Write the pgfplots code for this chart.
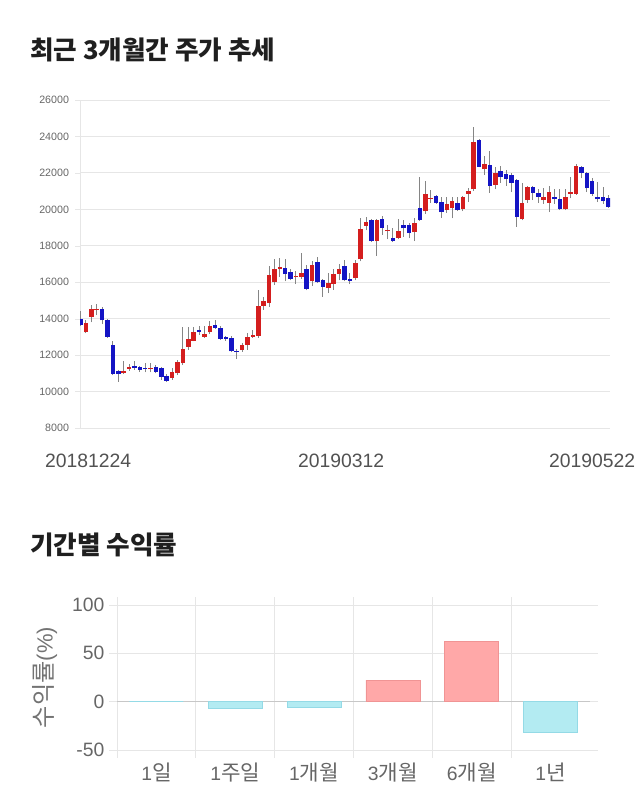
\documentclass[border=0pt]{standalone}
\usepackage{fontspec}
\setmainfont{Liberation Sans}
\newfontfamily\kr{Noto Sans CJK KR}
\newfontfamily\krl{Noto Sans CJK KR}[Scale=1.1]
\usepackage{pgfplots}
\usepackage{pgfplotstable}
\pgfplotsset{compat=1.18}
\definecolor{upred}{HTML}{D41E1E}
\definecolor{dnblue}{HTML}{1414C4}
\definecolor{wick}{HTML}{858585}
\definecolor{gridc}{HTML}{E6E6E6}
\definecolor{txt}{HTML}{666666}
\definecolor{posf}{HTML}{FFA8A8}
\definecolor{posd}{HTML}{F09494}
\definecolor{negf}{HTML}{B3EBF2}
\definecolor{negd}{HTML}{94DAE6}

% rising candles (close >= open): index open high low close
\pgfplotstableread{
i o h l c
1 13250 13950 13200 13750
2 14100 14750 13800 14550
3 14450 14800 14200 14530
8 11000 11700 10950 11150
9 11250 11500 11150 11350
13 11230 11550 11050 11280
17 10750 11300 10650 11100
18 11000 11750 10900 11600
19 11550 13550 11450 12350
20 12450 13550 12300 12900
21 12800 13550 12750 13250
23 13000 13600 12950 13150
24 13250 13850 13150 13600
30 12280 12650 12180 12550
31 12550 13200 12300 13000
32 13020 13400 12950 13080
33 13050 15550 12950 14700
34 14700 15200 14500 14950
35 14850 16900 14650 16400
36 16000 17300 15850 16700
37 16700 17350 16300 16850
40 16280 16600 15900 16340
41 16300 17600 16200 16480
43 16050 17150 15800 16950
46 15700 16500 15400 15950
47 15900 16700 15600 16450
48 16450 17000 16100 16700
51 16250 17200 16100 17050
52 17250 19550 17150 18900
53 19100 19560 18850 19330
55 18250 19450 17450 19400
57 18800 19150 18350 18870
59 18450 19450 18350 18830
62 18750 19500 18250 19250
64 19900 21550 19750 20850
65 20580 21050 20350 20640
68 19950 20650 19800 20300
69 20050 20700 19500 20450
71 20000 20750 19900 20700
72 20850 21150 20400 21030
73 21100 24500 21000 23700
75 22200 22900 21900 22470
77 21350 22300 21100 22000
82 19450 21450 19400 20350
83 20500 21300 20350 21200
86 20500 21150 20300 20700
87 20350 21300 19850 20950
90 20000 21100 19950 20700
91 20850 21800 20600 20950
92 20850 22500 20800 22400
}\up

% falling candles (close < open)
\pgfplotstableread{
i o h l c
0 14000 14400 13600 13650
4 14550 14650 13700 13900
5 13900 14000 12950 13000
6 12550 12800 10900 10950
7 11150 11200 10550 10950
10 11400 11650 11200 11300
11 11350 11400 11100 11200
12 11280 11550 11050 11230
14 11350 11450 11000 11100
15 11300 11350 10650 10800
16 10850 10950 10550 10600
22 13400 13600 13100 13250
25 13650 13900 13450 13500
26 13500 13600 12850 12900
27 13000 13050 12800 12900
28 12950 13050 12150 12200
29 12240 12350 11800 12170
38 16800 17300 16050 16450
39 16550 16750 16100 16200
42 16700 16950 15550 15650
44 17100 17400 15950 16000
45 16100 16200 15200 15750
49 16900 17200 16050 16100
50 16180 16500 15900 16050
54 19400 19450 18200 18250
56 19450 19650 18600 19000
58 18450 18950 18200 18250
60 19150 19400 18500 18950
61 19150 19250 18400 18700
63 20050 21800 19350 19400
66 20750 20800 20300 20350
67 20400 20650 19550 19850
70 20350 20650 19900 19950
74 23800 23850 22300 22350
76 22450 23200 20900 21300
78 22100 22400 21450 21750
79 21950 22150 21300 21650
80 21900 22000 20950 21450
81 21600 21650 19050 19600
84 21200 21300 20500 20900
85 20900 21100 20350 20700
88 20650 21100 20300 20550
89 20550 21100 19950 20000
93 22300 22400 21700 22000
94 22000 22050 20950 21150
95 21550 21700 20750 20850
96 20700 21500 20400 20550
97 20650 21200 20300 20450
98 20600 20800 20100 20150
}\dn

\begin{document}
\begin{tikzpicture}
\path[use as bounding box] (0,0) rectangle (480pt,-607.5pt);

\node[anchor=west, inner sep=0pt, font=\kr\bfseries\fontsize{19.2}{22}\selectfont, text=black!88] at (22.5pt,-37.5pt) {최근 3개월간 주가 추세};

\begin{axis}[
  at={(60pt,-75pt)}, anchor=north west, scale only axis,
  width=397.5pt, height=246pt,
  xmin=-0.1, xmax=98.3, ymin=8000, ymax=26000,
  ytick={8000,10000,...,26000},
  scaled y ticks=false,
  xtick={1.4,48.4,95.0},
  xticklabels={20181224,20190312,20190522},
  axis x line*=bottom, axis y line*=left,
  axis line style={draw=gridc},
  ymajorgrids, grid style={draw=gridc, line width=0.6pt},
  tick align=outside, major tick length=3.75pt,
  ytick style={draw=gridc},
  xtick style={draw=none},
  /pgf/number format/1000 sep={},
  /pgf/number format/assume math mode=true,
  yticklabel style={font=\fontsize{8}{9}\selectfont, text=txt, xshift=-1pt},
  xticklabel style={font=\fontsize{14.5}{16}\selectfont, text=black!68, yshift=-12pt},
  clip=true,
]
\addplot[draw=none, mark=none, forget plot, error bars/.cd, y dir=plus, y explicit, error mark=none,
  error bar style={draw=wick, line width=0.75pt}]
  table[x=i, y=l, y error plus expr=\thisrow{h}-\thisrow{l}] {\up};
\addplot[draw=none, mark=none, forget plot, error bars/.cd, y dir=plus, y explicit, error mark=none,
  error bar style={draw=wick, line width=0.75pt}]
  table[x=i, y=l, y error plus expr=\thisrow{h}-\thisrow{l}] {\dn};
\addplot[draw=none, mark=none, forget plot, error bars/.cd, y dir=plus, y explicit, error mark=none,
  error bar style={draw=upred, line width=3.4pt}]
  table[x=i, y=o, y error plus expr=\thisrow{c}-\thisrow{o}] {\up};
\addplot[draw=none, mark=none, forget plot, error bars/.cd, y dir=plus, y explicit, error mark=none,
  error bar style={draw=dnblue, line width=3.4pt}]
  table[x=i, y=c, y error plus expr=\thisrow{o}-\thisrow{c}] {\dn};
\end{axis}

\node[anchor=west, inner sep=0pt, font=\kr\bfseries\fontsize{19.2}{22}\selectfont, text=black!88] at (22.5pt,-408.75pt) {기간별 수익률};

\begin{axis}[
  at={(87.75pt,-453.75pt)}, anchor=north west, scale only axis,
  width=354.75pt, height=108.75pt,
  xmin=-0.5, xmax=5.5, ymin=-50, ymax=100,
  ytick={-50,50,100},
  extra y ticks={0},
  extra y tick style={grid style={draw=black!22, line width=0.6pt}},
  xtick={0,...,5},
  xticklabels={{1\krl 일},{1\krl 주일},{1\krl 개월},{3\krl 개월},{6\krl 개월},{1\krl 년}},
  minor xtick={-0.5,0.5,...,4.5},
  xminorgrids, ymajorgrids,
  grid style={draw=gridc, line width=0.6pt},
  minor grid style={draw=gridc, line width=0.6pt},
  axis line style={draw=none},
  tick align=outside, major tick length=6pt, minor tick length=6pt,
  xtick style={draw=none},
  minor x tick style={draw=gridc, line width=0.6pt},
  ytick style={draw=gridc, line width=0.6pt},
  /pgf/number format/assume math mode=true,
  yticklabel style={font=\fontsize{14.5}{16}\selectfont, text=txt},
  xticklabel style={font=\fontsize{14.5}{16}\selectfont, text=txt, yshift=0pt},
  ylabel={{\krl 수익률}(\%)},
  every axis y label/.style={at={(axis description cs:0,0.5)}, xshift=-54pt, rotate=90, anchor=center, font=\fontsize{16.5}{18}\selectfont, text=black!55},
  ybar, bar width=40.5pt, bar shift=0pt,
  clip=false,
]
\addplot[fill=posf, draw=posd, line width=0.6pt] coordinates {(3,22.3) (4,62.7)};
\addplot[fill=negf, draw=negd, line width=0.6pt] coordinates {(0,0) (1,-6.8) (2,-6.2) (5,-32.2)};
\end{axis}
\end{tikzpicture}
\end{document}
